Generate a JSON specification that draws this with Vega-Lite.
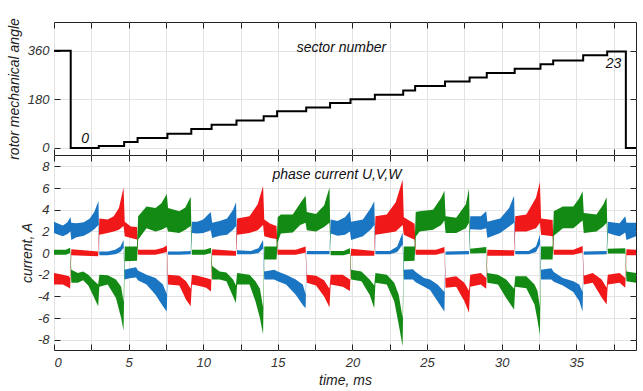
{
"$schema": "https://vega.github.io/schema/vega-lite/v6.json",
"padding": {"left": 6, "top": 17, "right": 5, "bottom": 5},
"spacing": 0,
"bounds": "flush",
"config": {
 "view": {"stroke": "#222", "strokeWidth": 1},
 "axis": {"labelFont": "Liberation Sans", "labelFontStyle": "italic", "labelFontSize": 13, "labelColor": "#333", "titleFont": "Liberation Sans", "titleFontStyle": "italic", "titleFontSize": 14, "titleFontWeight": "normal", "titleColor": "#222", "gridColor": "#e3e3e3", "gridWidth": 1, "tickColor": "#222", "tickSize": -6, "domain": false},
 "axisX": {"labelPadding": 12, "titlePadding": 4},
 "axisY": {"labelPadding": 11, "titlePadding": 6},
 "text": {"font": "Liberation Sans", "fontStyle": "italic", "fontSize": 14, "color": "#111"}
},
"datasets": {
 "angle": [
  {"t":0,"a":360},{"t":1.12,"a":0},{"t":3.0,"a":7},{"t":4.7,"a":22},{"t":5.6,"a":37},{"t":7.6,"a":53},{"t":9.2,"a":70},{"t":10.56,"a":86},{"t":12.23,"a":102},{"t":14.05,"a":117},{"t":14.95,"a":136},{"t":16.9,"a":150},{"t":18.5,"a":166},{"t":19.87,"a":180},{"t":21.5,"a":197},{"t":23.4,"a":213},{"t":24.2,"a":229},{"t":26.2,"a":246},{"t":27.85,"a":261},{"t":29.0,"a":277},{"t":30.87,"a":293},{"t":32.6,"a":310},{"t":33.45,"a":324},{"t":35.46,"a":343},{"t":37.07,"a":357},{"t":38.32,"a":0},{"t":39,"a":0}
 ],
 "cur": [
  {"p":"U","t":0,"lo":1.85,"hi":2.9},{"p":"U","t":0.3,"lo":1.7,"hi":2.7},{"p":"U","t":0.6,"lo":1.55,"hi":2.55},{"p":"U","t":0.9,"lo":1.75,"hi":2.85},{"p":"U","t":1.1,"lo":2.0,"hi":3.3},{"p":"U","t":1.16,"lo":1.2,"hi":2.8},{"p":"U","t":1.5,"lo":1.45,"hi":2.75},{"p":"U","t":2.0,"lo":1.6,"hi":2.85},{"p":"U","t":2.4,"lo":1.9,"hi":3.2},{"p":"U","t":2.7,"lo":2.2,"hi":3.8},{"p":"U","t":2.98,"lo":2.6,"hi":4.8},
  {"p":"U","t":3.04,"lo":-0.2,"hi":0.15},{"p":"U","t":3.6,"lo":-0.2,"hi":0.15},{"p":"U","t":4.1,"lo":-0.1,"hi":0.3},{"p":"U","t":4.45,"lo":0.1,"hi":0.6},{"p":"U","t":4.66,"lo":0.5,"hi":1.2},
  {"p":"U","t":4.72,"lo":-2.45,"hi":-1.55},{"p":"U","t":5.15,"lo":-2.3,"hi":-1.4},{"p":"U","t":5.5,"lo":-2.25,"hi":-1.3},{"p":"U","t":5.62,"lo":-2.5,"hi":-1.6},{"p":"U","t":6.2,"lo":-2.9,"hi":-2.0},{"p":"U","t":6.8,"lo":-3.85,"hi":-2.3},{"p":"U","t":7.3,"lo":-4.9,"hi":-2.9},{"p":"U","t":7.56,"lo":-5.4,"hi":-3.8},
  {"p":"U","t":7.64,"lo":-0.15,"hi":0.15},{"p":"U","t":8.4,"lo":-0.15,"hi":0.15},{"p":"U","t":9.16,"lo":-0.1,"hi":0.2},
  {"p":"U","t":9.24,"lo":1.85,"hi":2.9},{"p":"U","t":9.6,"lo":1.8,"hi":2.9},{"p":"U","t":10.0,"lo":1.85,"hi":3.1},{"p":"U","t":10.5,"lo":2.1,"hi":3.8},{"p":"U","t":10.6,"lo":1.4,"hi":2.8},{"p":"U","t":11.1,"lo":1.6,"hi":2.95},{"p":"U","t":11.6,"lo":1.7,"hi":3.2},{"p":"U","t":12.0,"lo":2.15,"hi":4.0},{"p":"U","t":12.2,"lo":2.5,"hi":4.7},
  {"p":"U","t":12.27,"lo":-0.1,"hi":0.25},{"p":"U","t":13.2,"lo":-0.1,"hi":0.2},{"p":"U","t":13.7,"lo":0.0,"hi":0.45},{"p":"U","t":14.01,"lo":0.4,"hi":1.2},
  {"p":"U","t":14.09,"lo":-2.45,"hi":-1.7},{"p":"U","t":14.75,"lo":-2.45,"hi":-1.55},{"p":"U","t":14.99,"lo":-2.6,"hi":-1.7},{"p":"U","t":15.55,"lo":-2.9,"hi":-2.0},{"p":"U","t":16.2,"lo":-3.85,"hi":-2.45},{"p":"U","t":16.67,"lo":-4.8,"hi":-2.9},{"p":"U","t":16.86,"lo":-5.1,"hi":-3.8},
  {"p":"U","t":16.94,"lo":-0.1,"hi":0.2},{"p":"U","t":18.46,"lo":-0.1,"hi":0.2},
  {"p":"U","t":18.54,"lo":1.8,"hi":3.1},{"p":"U","t":19.0,"lo":1.6,"hi":2.95},{"p":"U","t":19.5,"lo":1.7,"hi":3.3},{"p":"U","t":19.83,"lo":2.0,"hi":3.85},{"p":"U","t":19.91,"lo":1.2,"hi":2.9},{"p":"U","t":20.7,"lo":1.55,"hi":3.1},{"p":"U","t":21.25,"lo":2.2,"hi":4.2},{"p":"U","t":21.46,"lo":2.6,"hi":4.77},
  {"p":"U","t":21.54,"lo":-0.1,"hi":0.2},{"p":"U","t":22.5,"lo":-0.1,"hi":0.2},{"p":"U","t":23.0,"lo":0.1,"hi":0.6},{"p":"U","t":23.36,"lo":0.8,"hi":1.9},
  {"p":"U","t":23.44,"lo":-2.45,"hi":-1.55},{"p":"U","t":24.05,"lo":-2.45,"hi":-1.5},{"p":"U","t":24.24,"lo":-2.7,"hi":-1.75},{"p":"U","t":24.8,"lo":-3.1,"hi":-2.3},{"p":"U","t":25.2,"lo":-3.4,"hi":-2.45},{"p":"U","t":25.7,"lo":-4.45,"hi":-2.9},{"p":"U","t":26.16,"lo":-5.4,"hi":-3.6},
  {"p":"U","t":26.24,"lo":-0.15,"hi":0.15},{"p":"U","t":27.81,"lo":-0.1,"hi":0.2},
  {"p":"U","t":27.89,"lo":2.2,"hi":3.4},{"p":"U","t":28.6,"lo":2.15,"hi":3.4},{"p":"U","t":28.96,"lo":2.3,"hi":3.85},{"p":"U","t":29.04,"lo":1.4,"hi":2.9},{"p":"U","t":29.9,"lo":1.85,"hi":3.2},{"p":"U","t":30.5,"lo":2.45,"hi":4.15},{"p":"U","t":30.83,"lo":2.8,"hi":5.3},
  {"p":"U","t":30.91,"lo":-0.1,"hi":0.2},{"p":"U","t":31.8,"lo":-0.1,"hi":0.2},{"p":"U","t":32.3,"lo":0.1,"hi":0.6},{"p":"U","t":32.56,"lo":0.8,"hi":1.7},
  {"p":"U","t":32.64,"lo":-2.45,"hi":-1.55},{"p":"U","t":33.33,"lo":-2.45,"hi":-1.4},{"p":"U","t":33.49,"lo":-2.65,"hi":-1.75},{"p":"U","t":34.1,"lo":-3.0,"hi":-2.3},{"p":"U","t":34.8,"lo":-3.6,"hi":-2.6},{"p":"U","t":35.2,"lo":-4.45,"hi":-2.9},{"p":"U","t":35.42,"lo":-5.4,"hi":-3.6},
  {"p":"U","t":35.5,"lo":-0.15,"hi":0.15},{"p":"U","t":37.03,"lo":-0.1,"hi":0.2},
  {"p":"U","t":37.11,"lo":1.85,"hi":2.9},{"p":"U","t":37.6,"lo":1.65,"hi":2.8},{"p":"U","t":37.9,"lo":1.55,"hi":2.75},{"p":"U","t":38.28,"lo":1.9,"hi":3.4},{"p":"U","t":38.36,"lo":1.2,"hi":2.8},{"p":"U","t":39,"lo":1.55,"hi":2.8},

  {"p":"V","t":0,"lo":-2.9,"hi":-1.85},{"p":"V","t":0.6,"lo":-2.9,"hi":-2.0},{"p":"V","t":1.0,"lo":-3.2,"hi":-2.15},{"p":"V","t":1.08,"lo":-3.3,"hi":-2.3},
  {"p":"V","t":1.16,"lo":-0.2,"hi":0.35},{"p":"V","t":2.0,"lo":-0.25,"hi":0.25},{"p":"V","t":2.96,"lo":-0.3,"hi":0.15},
  {"p":"V","t":3.04,"lo":1.7,"hi":3.2},{"p":"V","t":3.6,"lo":1.85,"hi":3.1},{"p":"V","t":4.0,"lo":2.0,"hi":3.4},{"p":"V","t":4.35,"lo":2.15,"hi":4.15},{"p":"V","t":4.66,"lo":2.5,"hi":6.05},{"p":"V","t":4.74,"lo":1.55,"hi":2.9},{"p":"V","t":5.15,"lo":1.4,"hi":2.45},{"p":"V","t":5.56,"lo":1.25,"hi":2.4},
  {"p":"V","t":5.64,"lo":-0.15,"hi":0.3},{"p":"V","t":6.8,"lo":-0.15,"hi":0.3},{"p":"V","t":7.3,"lo":0.0,"hi":0.5},{"p":"V","t":7.56,"lo":0.1,"hi":0.7},
  {"p":"V","t":7.64,"lo":-2.9,"hi":-2.0},{"p":"V","t":8.4,"lo":-3.0,"hi":-2.1},{"p":"V","t":8.85,"lo":-4.3,"hi":-2.6},{"p":"V","t":9.16,"lo":-4.9,"hi":-3.3},{"p":"V","t":9.24,"lo":-2.9,"hi":-2.0},{"p":"V","t":9.6,"lo":-3.0,"hi":-2.1},{"p":"V","t":10.2,"lo":-3.2,"hi":-2.3},{"p":"V","t":10.52,"lo":-3.55,"hi":-2.45},
  {"p":"V","t":10.6,"lo":-0.2,"hi":0.35},{"p":"V","t":12.19,"lo":-0.25,"hi":0.2},
  {"p":"V","t":12.27,"lo":1.7,"hi":3.2},{"p":"V","t":13.1,"lo":1.85,"hi":3.4},{"p":"V","t":13.65,"lo":2.1,"hi":4.5},{"p":"V","t":14.01,"lo":2.6,"hi":6.2},{"p":"V","t":14.09,"lo":1.55,"hi":3.1},{"p":"V","t":14.5,"lo":1.4,"hi":2.7},{"p":"V","t":14.91,"lo":1.3,"hi":2.5},
  {"p":"V","t":14.99,"lo":-0.15,"hi":0.3},{"p":"V","t":16.2,"lo":-0.15,"hi":0.3},{"p":"V","t":16.86,"lo":0.05,"hi":0.6},
  {"p":"V","t":16.94,"lo":-2.75,"hi":-2.0},{"p":"V","t":17.56,"lo":-3.0,"hi":-2.1},{"p":"V","t":18.1,"lo":-4.0,"hi":-2.5},{"p":"V","t":18.46,"lo":-5.0,"hi":-3.3},{"p":"V","t":18.54,"lo":-2.9,"hi":-2.0},{"p":"V","t":19.35,"lo":-3.1,"hi":-2.0},{"p":"V","t":19.83,"lo":-3.5,"hi":-2.45},
  {"p":"V","t":19.91,"lo":-0.25,"hi":0.4},{"p":"V","t":21.46,"lo":-0.25,"hi":0.2},
  {"p":"V","t":21.54,"lo":1.7,"hi":3.4},{"p":"V","t":22.3,"lo":1.85,"hi":3.55},{"p":"V","t":22.9,"lo":2.0,"hi":4.7},{"p":"V","t":23.36,"lo":2.6,"hi":6.77},{"p":"V","t":23.44,"lo":1.7,"hi":3.3},{"p":"V","t":24.05,"lo":1.3,"hi":2.8},{"p":"V","t":24.16,"lo":1.25,"hi":2.7},
  {"p":"V","t":24.24,"lo":-0.15,"hi":0.3},{"p":"V","t":25.6,"lo":-0.15,"hi":0.3},{"p":"V","t":26.16,"lo":0.05,"hi":0.55},
  {"p":"V","t":26.24,"lo":-3.2,"hi":-2.3},{"p":"V","t":26.95,"lo":-3.1,"hi":-2.15},{"p":"V","t":27.5,"lo":-4.45,"hi":-2.75},{"p":"V","t":27.81,"lo":-5.5,"hi":-3.5},{"p":"V","t":27.89,"lo":-3.1,"hi":-2.0},{"p":"V","t":28.6,"lo":-2.9,"hi":-1.85},{"p":"V","t":28.96,"lo":-3.3,"hi":-2.3},
  {"p":"V","t":29.04,"lo":-0.25,"hi":0.3},{"p":"V","t":30.83,"lo":-0.25,"hi":0.25},
  {"p":"V","t":30.91,"lo":2.0,"hi":3.4},{"p":"V","t":31.65,"lo":2.0,"hi":3.55},{"p":"V","t":32.3,"lo":2.3,"hi":5.1},{"p":"V","t":32.56,"lo":2.8,"hi":6.55},{"p":"V","t":32.64,"lo":1.7,"hi":3.2},{"p":"V","t":33.41,"lo":1.55,"hi":3.05},
  {"p":"V","t":33.49,"lo":-0.15,"hi":0.3},{"p":"V","t":34.8,"lo":-0.15,"hi":0.3},{"p":"V","t":35.42,"lo":0.05,"hi":0.65},
  {"p":"V","t":35.5,"lo":-2.9,"hi":-2.1},{"p":"V","t":36.1,"lo":-2.75,"hi":-1.85},{"p":"V","t":36.7,"lo":-4.1,"hi":-2.45},{"p":"V","t":37.03,"lo":-4.75,"hi":-3.2},{"p":"V","t":37.11,"lo":-2.9,"hi":-2.0},{"p":"V","t":37.9,"lo":-2.75,"hi":-1.85},{"p":"V","t":38.28,"lo":-3.2,"hi":-2.3},
  {"p":"V","t":38.36,"lo":-0.2,"hi":0.35},{"p":"V","t":39,"lo":-0.2,"hi":0.3},

  {"p":"W","t":0,"lo":-0.15,"hi":0.3},{"p":"W","t":0.8,"lo":-0.15,"hi":0.3},{"p":"W","t":1.08,"lo":0.0,"hi":0.5},
  {"p":"W","t":1.16,"lo":-2.75,"hi":-1.55},{"p":"W","t":1.6,"lo":-2.75,"hi":-1.85},{"p":"W","t":1.95,"lo":-2.5,"hi":-1.7},{"p":"W","t":2.3,"lo":-3.0,"hi":-2.0},{"p":"W","t":2.6,"lo":-3.85,"hi":-2.45},{"p":"W","t":2.96,"lo":-4.9,"hi":-2.9},{"p":"W","t":3.04,"lo":-3.1,"hi":-2.0},{"p":"W","t":3.6,"lo":-2.9,"hi":-2.05},{"p":"W","t":4.15,"lo":-4.15,"hi":-2.45},{"p":"W","t":4.5,"lo":-6.0,"hi":-3.1},{"p":"W","t":4.66,"lo":-7.15,"hi":-4.5},
  {"p":"W","t":4.74,"lo":-0.75,"hi":0.6},{"p":"W","t":5.56,"lo":-0.7,"hi":0.6},
  {"p":"W","t":5.64,"lo":1.25,"hi":3.4},{"p":"W","t":6.2,"lo":2.3,"hi":4.3},{"p":"W","t":6.8,"lo":2.0,"hi":4.15},{"p":"W","t":7.2,"lo":2.15,"hi":4.6},{"p":"W","t":7.56,"lo":2.4,"hi":5.45},{"p":"W","t":7.64,"lo":2.0,"hi":4.15},{"p":"W","t":8.4,"lo":1.85,"hi":3.85},{"p":"W","t":8.8,"lo":2.15,"hi":4.2},{"p":"W","t":9.16,"lo":2.5,"hi":5.2},
  {"p":"W","t":9.24,"lo":-0.15,"hi":0.3},{"p":"W","t":10.1,"lo":-0.15,"hi":0.3},{"p":"W","t":10.52,"lo":0.0,"hi":0.5},
  {"p":"W","t":10.6,"lo":-2.45,"hi":-1.2},{"p":"W","t":11.1,"lo":-2.45,"hi":-1.7},{"p":"W","t":11.55,"lo":-2.6,"hi":-1.8},{"p":"W","t":12.0,"lo":-4.0,"hi":-2.45},{"p":"W","t":12.19,"lo":-4.6,"hi":-3.0},{"p":"W","t":12.27,"lo":-2.9,"hi":-1.85},{"p":"W","t":13.1,"lo":-2.9,"hi":-2.0},{"p":"W","t":13.5,"lo":-4.45,"hi":-2.6},{"p":"W","t":13.8,"lo":-6.0,"hi":-3.3},{"p":"W","t":14.01,"lo":-7.5,"hi":-5.0},
  {"p":"W","t":14.09,"lo":-0.6,"hi":0.6},{"p":"W","t":14.91,"lo":-0.6,"hi":0.6},
  {"p":"W","t":14.99,"lo":1.0,"hi":3.3},{"p":"W","t":15.2,"lo":1.8,"hi":3.55},{"p":"W","t":16.0,"lo":1.9,"hi":3.55},{"p":"W","t":16.5,"lo":2.6,"hi":4.6},{"p":"W","t":16.86,"lo":2.8,"hi":5.3},{"p":"W","t":16.94,"lo":2.1,"hi":3.8},{"p":"W","t":17.56,"lo":2.0,"hi":3.6},{"p":"W","t":18.1,"lo":2.4,"hi":4.4},{"p":"W","t":18.46,"lo":2.8,"hi":6.06},
  {"p":"W","t":18.54,"lo":-0.2,"hi":0.2},{"p":"W","t":19.4,"lo":-0.2,"hi":0.2},{"p":"W","t":19.83,"lo":-0.05,"hi":0.45},
  {"p":"W","t":19.91,"lo":-2.45,"hi":-1.55},{"p":"W","t":20.6,"lo":-2.6,"hi":-1.7},{"p":"W","t":21.15,"lo":-3.85,"hi":-2.45},{"p":"W","t":21.46,"lo":-5.1,"hi":-3.0},{"p":"W","t":21.54,"lo":-2.75,"hi":-1.85},{"p":"W","t":22.3,"lo":-2.9,"hi":-2.0},{"p":"W","t":22.8,"lo":-4.45,"hi":-2.75},{"p":"W","t":23.1,"lo":-6.6,"hi":-3.85},{"p":"W","t":23.36,"lo":-8.6,"hi":-6.0},
  {"p":"W","t":23.44,"lo":-0.75,"hi":0.6},{"p":"W","t":24.16,"lo":-0.7,"hi":0.6},
  {"p":"W","t":24.24,"lo":1.5,"hi":3.8},{"p":"W","t":24.5,"lo":2.0,"hi":3.85},{"p":"W","t":25.4,"lo":2.15,"hi":4.0},{"p":"W","t":25.95,"lo":2.6,"hi":5.1},{"p":"W","t":26.16,"lo":3.0,"hi":5.75},{"p":"W","t":26.24,"lo":1.85,"hi":3.4},{"p":"W","t":26.95,"lo":1.85,"hi":3.25},{"p":"W","t":27.6,"lo":2.3,"hi":4.5},{"p":"W","t":27.81,"lo":2.8,"hi":5.95},
  {"p":"W","t":27.89,"lo":-0.05,"hi":0.4},{"p":"W","t":28.96,"lo":0.0,"hi":0.55},
  {"p":"W","t":29.04,"lo":-2.75,"hi":-1.85},{"p":"W","t":29.75,"lo":-2.9,"hi":-2.0},{"p":"W","t":30.3,"lo":-4.15,"hi":-2.45},{"p":"W","t":30.83,"lo":-5.2,"hi":-3.3},{"p":"W","t":30.91,"lo":-3.1,"hi":-2.15},{"p":"W","t":31.65,"lo":-3.25,"hi":-2.15},{"p":"W","t":32.2,"lo":-4.75,"hi":-2.9},{"p":"W","t":32.4,"lo":-6.2,"hi":-3.5},{"p":"W","t":32.56,"lo":-7.55,"hi":-5.0},
  {"p":"W","t":32.64,"lo":-0.6,"hi":0.6},{"p":"W","t":33.41,"lo":-0.6,"hi":0.6},
  {"p":"W","t":33.49,"lo":1.6,"hi":3.85},{"p":"W","t":34.1,"lo":2.3,"hi":4.3},{"p":"W","t":34.8,"lo":2.3,"hi":4.3},{"p":"W","t":35.2,"lo":2.75,"hi":5.05},{"p":"W","t":35.42,"lo":3.0,"hi":5.7},{"p":"W","t":35.5,"lo":1.85,"hi":3.7},{"p":"W","t":36.35,"lo":2.0,"hi":3.55},{"p":"W","t":36.8,"lo":2.45,"hi":4.45},{"p":"W","t":37.03,"lo":2.8,"hi":5.15},
  {"p":"W","t":37.11,"lo":-0.05,"hi":0.4},{"p":"W","t":38.28,"lo":-0.05,"hi":0.45},
  {"p":"W","t":38.36,"lo":-2.6,"hi":-1.7},{"p":"W","t":39,"lo":-2.75,"hi":-1.85}
 ]
},
"vconcat": [
 {
  "width": 582, "height": 133,
  "layer": [
   {"data": {"name": "angle"},
    "mark": {"type": "line", "interpolate": "step-after", "color": "#000", "strokeWidth": 2},
    "encoding": {
     "x": {"field": "t", "type": "quantitative", "scale": {"domain": [0, 39], "nice": false, "zero": false},
           "axis": {"orient": "bottom", "values": [0,2.5,5,7.5,10,12.5,15,17.5,20,22.5,25,27.5,30,32.5,35,37.5], "labels": false, "title": null, "grid": true}},
     "y": {"field": "a", "type": "quantitative", "scale": {"domain": [-26, 466], "nice": false, "zero": false},
           "axis": {"orient": "left", "values": [0, 180, 360], "title": "rotor mechanical angle", "grid": true}}
    }},
   {"data": {"values": [{"t": 19.26, "a": 371, "label": "sector number"}, {"t": 2.08, "a": 34, "label": "0"}, {"t": 37.5, "a": 312, "label": "23"}]},
    "mark": {"type": "text", "baseline": "middle", "align": "center"},
    "encoding": {
     "x": {"field": "t", "type": "quantitative", "axis": null},
     "y": {"field": "a", "type": "quantitative", "axis": null},
     "text": {"field": "label"}
    }},
   {"data": {"name": "angle"},
    "mark": {"type": "point", "opacity": 0},
    "encoding": {
     "x": {"field": "t", "type": "quantitative", "axis": {"orient": "top", "values": [0,2.5,5,7.5,10,12.5,15,17.5,20,22.5,25,27.5,30,32.5,35,37.5], "labels": false, "title": null, "grid": false}},
     "y": {"field": "a", "type": "quantitative", "axis": {"orient": "right", "values": [0, 180, 360], "labels": false, "title": null, "grid": false}}
    }}
  ],
  "resolve": {"axis": {"x": "independent", "y": "independent"}}
 },
 {
  "width": 582, "height": 195,
  "layer": [
   {"data": {"name": "cur"},
    "mark": {"type": "area"},
    "encoding": {
     "x": {"field": "t", "type": "quantitative", "scale": {"domain": [0, 39], "nice": false, "zero": false},
           "axis": {"orient": "bottom", "values": [0,2.5,5,7.5,10,12.5,15,17.5,20,22.5,25,27.5,30,32.5,35,37.5], "labelExpr": "datum.value % 5 == 0 ? datum.label : ''", "title": "time, ms", "grid": true}},
     "y": {"field": "lo", "type": "quantitative", "stack": null, "scale": {"domain": [-8.95, 9.05], "nice": false, "zero": false},
           "axis": {"orient": "left", "values": [-8,-6,-4,-2,0,2,4,6,8], "labelExpr": "datum.value < 0 ? '-' + abs(datum.value) : '' + datum.value", "title": "current, A", "titlePadding": 3, "grid": true}},
     "y2": {"field": "hi"},
     "color": {"field": "p", "type": "nominal", "scale": {"domain": ["U", "V", "W"], "range": ["#1a75c2", "#f01818", "#138a13"]}, "legend": null}
    }},
   {"data": {"values": [{"t": 18.96, "c": 7.25, "label": "phase current U,V,W"}]},
    "mark": {"type": "text", "baseline": "middle", "align": "center"},
    "encoding": {
     "x": {"field": "t", "type": "quantitative", "axis": null},
     "y": {"field": "c", "type": "quantitative", "axis": null},
     "text": {"field": "label"}
    }},
   {"data": {"name": "cur"},
    "mark": {"type": "point", "opacity": 0},
    "encoding": {
     "x": {"field": "t", "type": "quantitative", "axis": {"orient": "top", "values": [0,2.5,5,7.5,10,12.5,15,17.5,20,22.5,25,27.5,30,32.5,35,37.5], "labels": false, "title": null, "grid": false}},
     "y": {"field": "lo", "type": "quantitative", "axis": {"orient": "right", "values": [-8,-6,-4,-2,0,2,4,6,8], "labels": false, "title": null, "grid": false}}
    }}
  ],
  "resolve": {"axis": {"x": "independent", "y": "independent"}}
 }
]
}
